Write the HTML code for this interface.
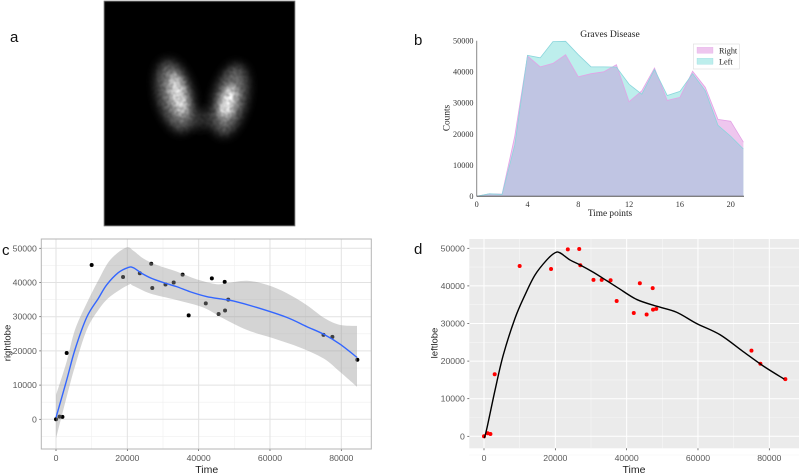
<!DOCTYPE html>
<html>
<head>
<meta charset="utf-8">
<title>Graves Disease thyroid uptake figure</title>
<style>
html,body{margin:0;padding:0;background:#fff;}
body{width:800px;height:474px;overflow:hidden;}
svg{display:block;}
.gg{font-family:"Liberation Sans",sans-serif;}
.se{font-family:"Liberation Serif",serif;}
</style>
</head>
<body>
<svg id="fig" xmlns="http://www.w3.org/2000/svg" width="800" height="474" viewBox="0 0 800 474">
<defs>
<filter id="b8" x="-60%" y="-60%" width="220%" height="220%"><feGaussianBlur stdDeviation="5"/></filter>
<filter id="b4" x="-60%" y="-60%" width="220%" height="220%"><feGaussianBlur stdDeviation="4"/></filter>
<filter id="speckle" x="0" y="0" width="100%" height="100%" color-interpolation-filters="sRGB">
<feTurbulence type="fractalNoise" baseFrequency="0.3" numOctaves="2" seed="7" result="n"/>
<feColorMatrix in="n" type="matrix" values="1 0 0 0 0  1 0 0 0 0  1 0 0 0 0  0 0 0 0 1" result="g"/>
<feComposite in="SourceGraphic" in2="g" operator="arithmetic" k1="0.7" k2="0.62" k3="0" k4="0" result="c"/>
<feGaussianBlur in="c" stdDeviation="0.8"/>
</filter>
<clipPath id="img-clip"><rect x="104" y="1" width="191" height="225"/></clipPath>
</defs>
<rect width="800" height="474" fill="#fff"/>

<g clip-path="url(#img-clip)">
<g id="scan" filter="url(#speckle)">
<rect x="104" y="1" width="191" height="225" fill="#000"/>
<ellipse cx="200" cy="119" rx="18" ry="9" fill="#2e2e2e" filter="url(#b8)"/>
<ellipse cx="175" cy="96" rx="17" ry="36" fill="#666" transform="rotate(-14 175 96)" filter="url(#b8)"/>
<ellipse cx="230" cy="100" rx="16" ry="36" fill="#666" transform="rotate(14 230 100)" filter="url(#b8)"/>
<ellipse cx="178" cy="95" rx="8" ry="22" fill="#ddd" transform="rotate(-14 178 95)" filter="url(#b4)"/>
<ellipse cx="228" cy="102" rx="7" ry="17" fill="#f4f4f4" transform="rotate(16 228 102)" filter="url(#b4)"/>
</g>
</g>
<rect x="104" y="1" width="191" height="225" fill="none" stroke="#666" stroke-width=".6"/>

<text class="gg" x="10" y="42" font-size="15" fill="#111">a</text>
<text class="gg" x="414" y="45" font-size="15" fill="#111">b</text>
<text class="gg" x="2" y="255" font-size="15" fill="#111">c</text>
<text class="gg" x="414" y="254" font-size="15" fill="#111">d</text>

<g id="panelB"></g>
<g id="panelC"></g>
<g id="panelD"></g>
</svg>

<script>
// Shared measurements
const timeValues = [0,1000,1800,3000,10000,18800,23500,26700,27000,30700,33000,35500,37200,42000,43700,45600,47400,47300,48300,75000,77500,84500];
const rightCounts = [0,800,700,19400,45100,41600,42700,45500,38400,39400,40000,42300,30400,33900,41200,30800,31800,40200,35000,24700,24100,17400];
const leftCounts = [0,800,600,16500,45300,44500,49700,49800,45500,41600,41600,41500,36000,32800,40700,32400,33700,39400,33900,22800,19300,15200];

// Panel b ticks
const bXTicks = [0,4,8,12,16,20];
const bYTicks = [0,10000,20000,30000,40000,50000];

// Panel c smooth and confidence band
const cSmoothT = [0,3000,5300,8600,11900,14200,17500,20300,21700,24000,26800,30100,33800,37600,42200,46900,49700,56300,64700,70300,75000,79600,84400];
const cSmoothV = [500,11500,20300,29800,35400,39300,42900,44400,44300,42700,41200,40000,38800,37300,35900,35100,34600,32700,29800,27100,24900,22000,18100];
const cUpperT = [0,3000,5300,8600,11900,15200,19600,21700,24500,28300,33800,39500,45000,47900,53600,59200,64700,70300,75400,79600,84400];
const cUpperV = [7100,16900,26100,33900,40700,46600,50200,49300,47000,45100,43200,40900,39500,39800,40500,39300,36900,33400,29500,27600,27300];
const cLowerT = [0,3000,5300,8600,11900,15200,20300,21700,26400,33800,41300,46900,53600,60900,68400,75000,79600,84400];
const cLowerV = [-5600,6600,15400,26100,32000,35900,39300,39000,36800,34900,32700,29500,26100,23700,21000,17800,13900,9500];

// Panel d smooth
const dSmoothT = [100,900,3100,5400,8700,11500,14300,17600,19900,21300,24100,26900,30700,34400,37700,42800,48400,54000,59600,66200,72700,78300,84200];
const dSmoothV = [-500,2500,12300,21600,31400,37600,42900,46900,48800,48800,46900,45600,43600,41400,39400,36400,34600,33000,30000,27000,22500,18700,15200];

// Shared gg ticks
const ggXMajor = [0,20000,40000,60000,80000];
const ggXMinor = [10000,30000,50000,70000];
const ggYMajor = [0,10000,20000,30000,40000,50000];
const ggYMinor = [-5000,5000,15000,25000,35000,45000];

const NS = 'http://www.w3.org/2000/svg';
function mk(parent, tag, attrs, text) {
  const el = document.createElementNS(NS, tag);
  for (const k in attrs) el.setAttribute(k, attrs[k]);
  if (text !== undefined) el.textContent = text;
  parent.appendChild(el);
  return el;
}
function linePath(xs, ys, sx, sy) {
  return xs.map((v, i) => (i ? 'L' : 'M') + sx(v).toFixed(2) + ' ' + sy(ys[i]).toFixed(2)).join('');
}
function curvePath(xs, ys, sx, sy) {
  const px = xs.map(sx);
  const py = ys.map(sy);
  const n = px.length;
  let d = 'M' + px[0].toFixed(2) + ' ' + py[0].toFixed(2);
  for (let i = 0; i < n - 1; i++) {
    const a = Math.max(i - 1, 0);
    const b = Math.min(i + 2, n - 1);
    const c1x = px[i] + (px[i + 1] - px[a]) / 6;
    const c1y = py[i] + (py[i + 1] - py[a]) / 6;
    const c2x = px[i + 1] - (px[b] - px[i]) / 6;
    const c2y = py[i + 1] - (py[b] - py[i]) / 6;
    d += 'C' + c1x.toFixed(2) + ' ' + c1y.toFixed(2) + ' ' + c2x.toFixed(2) + ' ' + c2y.toFixed(2) + ' ' + px[i + 1].toFixed(2) + ' ' + py[i + 1].toFixed(2);
  }
  return d;
}

/* ---------- panel b ---------- */
(function () {
  const g = document.getElementById('panelB');
  const sx = v => 476.7 + v * 12.7;
  const sy = v => 196.3 - v * (155.6 / 50000);
  const idx = rightCounts.map((_, i) => i);
  const area = vals => linePath(idx, vals, sx, sy) + 'L' + sx(idx.length - 1) + ' ' + sy(0) + 'L' + sx(0) + ' ' + sy(0) + 'Z';

  const defs = mk(g, 'defs', {});
  const cp = mk(defs, 'clipPath', { id: 'right-area-clip' });
  mk(cp, 'path', { d: area(rightCounts) });

  const rightArea = mk(g, 'path', { d: area(rightCounts), fill: '#eec6ee' });
  
  
  const leftArea = mk(g, 'path', { d: area(leftCounts), fill: '#bdeeec' });
  
  
  const overlap = mk(g, 'path', { d: area(leftCounts), fill: '#c0c5e3', 'clip-path': 'url(#right-area-clip)' });
  
  

  const rightLine = mk(g, 'path', { d: linePath(idx, rightCounts, sx, sy), fill: 'none', stroke: '#e3a3e6', 'stroke-width': 0.8 });
  
  
  const leftLine = mk(g, 'path', { d: linePath(idx, leftCounts, sx, sy), fill: 'none', stroke: '#8ad6dc', 'stroke-width': 0.8 });
  
  

  const yAxis = mk(g, 'line', { x1: sx(0), x2: sx(0), y1: sy(50000), y2: sy(0), stroke: '#888', 'stroke-width': 1 });
  
  
  const xAxis = mk(g, 'line', { x1: sx(0), x2: 744, y1: sy(0), y2: sy(0), stroke: '#555', 'stroke-width': 1 });
  
  

  bYTicks.forEach(v => {
    const t = mk(g, 'text', { class: 'se', x: 473.5, y: sy(v) + 2.8, 'text-anchor': 'end', 'font-size': 8.2, fill: '#333' }, String(v));
    
    
  });
  bXTicks.forEach(v => {
    const t = mk(g, 'text', { class: 'se', x: sx(v), y: 207, 'text-anchor': 'middle', 'font-size': 8.2, fill: '#333' }, String(v));
    
    
  });

  const title = mk(g, 'text', { class: 'se', x: 610, y: 37, 'text-anchor': 'middle', 'font-size': 9.6, fill: '#222' }, 'Graves Disease');
  
  
  const xt = mk(g, 'text', { class: 'se', x: 610, y: 216, 'text-anchor': 'middle', 'font-size': 9.3, fill: '#222' }, 'Time points');
  
  
  const yt = mk(g, 'text', { class: 'se', x: 0, y: 0, transform: 'translate(449.5 118) rotate(-90)', 'text-anchor': 'middle', 'font-size': 9.3, fill: '#222' }, 'Counts');
  
  

  const lg = mk(g, 'g', {});
  
  
  mk(lg, 'rect', { x: 693.3, y: 44, width: 46, height: 25, fill: '#fff', stroke: '#ddd', 'stroke-width': 0.6 });
  const s1 = mk(lg, 'rect', { x: 697, y: 47.3, width: 16, height: 6, fill: '#eec6ee', stroke: '#e3a3e6', 'stroke-width': 0.3 });
  
  
  const s2 = mk(lg, 'rect', { x: 697, y: 58.3, width: 16, height: 6, fill: '#bdeeec', stroke: '#8ad6dc', 'stroke-width': 0.3 });
  
  
  const l1 = mk(lg, 'text', { class: 'se', x: 719, y: 53.5, 'font-size': 8.2, fill: '#222' }, 'Right');
  
  
  const l2 = mk(lg, 'text', { class: 'se', x: 719, y: 64.5, 'font-size': 8.2, fill: '#222' }, 'Left');
  
  
})();

/* ---------- gg frame shared by c and d ---------- */
function drawFrame(g, box, sx, sy, opt) {
  const bg = mk(g, 'rect', { x: box.x, y: box.y, width: box.w, height: box.h, fill: opt.bg });
  
  
  ggXMinor.forEach(v => {
    const l = mk(g, 'line', { x1: sx(v), x2: sx(v), y1: box.y, y2: box.y + box.h, stroke: opt.minor, 'stroke-width': 0.6 });
    
    
  });
  ggYMinor.forEach(v => {
    const l = mk(g, 'line', { x1: box.x, x2: box.x + box.w, y1: sy(v), y2: sy(v), stroke: opt.minor, 'stroke-width': 0.6 });
    
    
  });
  ggXMajor.forEach(v => {
    const l = mk(g, 'line', { x1: sx(v), x2: sx(v), y1: box.y, y2: box.y + box.h, stroke: opt.major, 'stroke-width': 1 });
    
    
    const tk = mk(g, 'line', { x1: sx(v), x2: sx(v), y1: box.y + box.h, y2: box.y + box.h + 2, stroke: '#444', 'stroke-width': 0.7 });
    
    
    const t = mk(g, 'text', { class: 'gg', x: sx(v), y: 461, 'text-anchor': 'middle', 'font-size': 8.7, fill: '#5a5a5a' }, String(v));
    
    
  });
  ggYMajor.forEach(v => {
    const l = mk(g, 'line', { x1: box.x, x2: box.x + box.w, y1: sy(v), y2: sy(v), stroke: opt.major, 'stroke-width': 1 });
    
    
    const tk = mk(g, 'line', { x1: box.x - 2, x2: box.x, y1: sy(v), y2: sy(v), stroke: '#444', 'stroke-width': 0.7 });
    
    
    const t = mk(g, 'text', { class: 'gg', x: box.x - 4.5, y: sy(v) + 3, 'text-anchor': 'end', 'font-size': 8.7, fill: '#5a5a5a' }, String(v));
    
    
  });
  const xt = mk(g, 'text', { class: 'gg', x: opt.xTitleX, y: 473, 'text-anchor': 'middle', 'font-size': 10.5, fill: '#222' }, 'Time');
  
  
  const yt = mk(g, 'text', { class: 'gg', x: 0, y: 0, transform: 'translate(' + opt.yTitleX + ' 343) rotate(-90)', 'text-anchor': 'middle', 'font-size': 9.5, fill: '#222' }, opt.yTitle);
  
  
}

/* ---------- panel c ---------- */
(function () {
  const g = document.getElementById('panelC');
  const box = { x: 41.3, y: 239, w: 330, h: 210 };
  const sx = v => 56 + v * (285.3 / 80000);
  const sy = v => 419.3 - v * (171 / 50000);
  drawFrame(g, box, sx, sy, { bg: '#fff', major: '#e2e2e2', minor: '#efefef', xTitleX: 206.7, yTitleX: 10.5, yTitle: 'rightlobe' });

  timeValues.forEach((t, i) => {
    const p = mk(g, 'circle', { cx: sx(t), cy: sy(rightCounts[i]), r: 2, fill: '#000' });
    
    
  });

  const up = curvePath(cUpperT, cUpperV, sx, sy);
  const lowT = cLowerT.slice().reverse();
  const lowV = cLowerV.slice().reverse();
  const low = curvePath(lowT, lowV, sx, sy).replace('M', 'L');
  const band = mk(g, 'path', { d: up + low + 'Z', fill: 'rgba(153,153,153,0.42)', stroke: 'none' });
  
  

  const smooth = mk(g, 'path', { d: curvePath(cSmoothT, cSmoothV, sx, sy), fill: 'none', stroke: '#3366ff', 'stroke-width': 1.4, 'stroke-linejoin': 'round' });
  
  

  const border = mk(g, 'rect', { x: box.x, y: box.y, width: box.w, height: box.h, fill: 'none', stroke: '#b5b5b5', 'stroke-width': 1 });
  
  
})();

/* ---------- panel d ---------- */
(function () {
  const g = document.getElementById('panelD');
  const box = { x: 469.3, y: 239, w: 329.7, h: 209.3 };
  const sx = v => 484 + v * (285.3 / 80000);
  const sy = v => 436.3 - v * (188 / 50000);
  drawFrame(g, box, sx, sy, { bg: '#ebebeb', major: '#ffffff', minor: '#f6f6f6', xTitleX: 634, yTitleX: 437.5, yTitle: 'leftlobe' });

  timeValues.forEach((t, i) => {
    const p = mk(g, 'circle', { cx: sx(t), cy: sy(leftCounts[i]), r: 2, fill: '#ff0000' });
    
    
  });

  const smooth = mk(g, 'path', { d: curvePath(dSmoothT, dSmoothV, sx, sy), fill: 'none', stroke: '#000', 'stroke-width': 1.4, 'stroke-linejoin': 'round' });
  
  
})();
</script>
</body>
</html>
